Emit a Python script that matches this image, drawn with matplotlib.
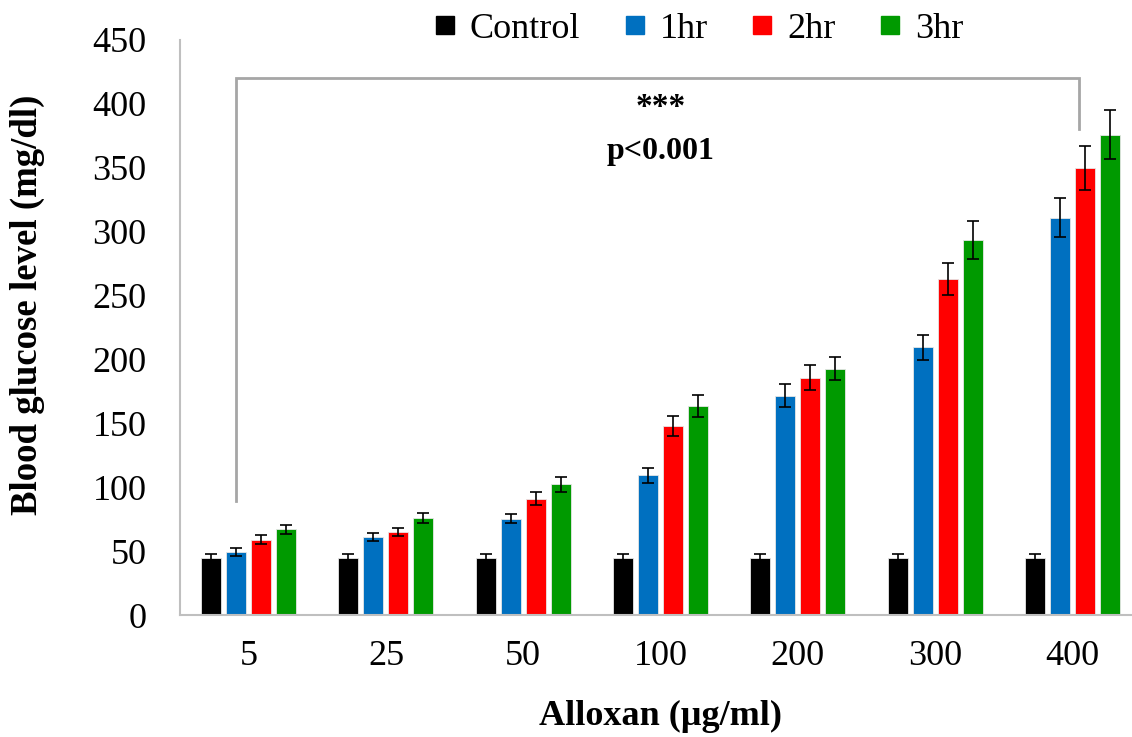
import numpy as np
import matplotlib.pyplot as plt
from matplotlib.lines import Line2D

# Blood glucose after alloxan exposure
doses = ["5", "25", "50", "100", "200", "300", "400"]
series = ["Control", "1hr", "2hr", "3hr"]
colors = ["#000000", "#0070c0", "#ff0000", "#009a00"]

control = [45, 45, 45, 45, 45, 45, 45]
hr1 = [49.5, 61, 75.4, 109.3, 171.6, 209.5, 311]
hr2 = [59, 65, 91, 148, 185.7, 262.6, 350]
hr3 = [67, 76, 102.3, 163.8, 192.7, 293.6, 376]

control_err = [2.5, 2.5, 2.5, 2.5, 2.5, 2.5, 2.5]
hr1_err = [3, 3, 3.6, 5.7, 9, 10, 15]
hr2_err = [3.5, 3, 5, 8, 9.7, 12.5, 17]
hr3_err = [3.5, 4, 5.7, 8.6, 9, 15, 19]

# significance bracket (left foot, top, top, right foot)
bracket_y = [89, 420, 420, 380]
sig_stars = "***"
sig_text = "p<0.001"

values = [control, hr1, hr2, hr3]
errors = [control_err, hr1_err, hr2_err, hr3_err]

plt.rcParams['font.family'] = ['Liberation Serif', 'DejaVu Serif']

fig = plt.figure(figsize=(11.32, 7.37), dpi=100)
ax = fig.add_axes([180 / 1132, 122 / 737, 952 / 1132, 575 / 737])

x = np.arange(len(doses))
pitch = 0.182
width = 0.146
for i, (vals, errs, col, name) in enumerate(zip(values, errors, colors, series)):
    offs = (i - 1.5) * pitch
    ax.bar(x + offs, vals, width, color=col, edgecolor="#e6e6e6", linewidth=0.6,
           label=name, zorder=2)
    ax.errorbar(x + offs, vals, yerr=errs, fmt="none", ecolor="black",
                elinewidth=1.2, capsize=4.5, capthick=1.2, zorder=3)

# bracket from the 5 ug/ml group to the 400 ug/ml group
bx0 = 0 - 0.5 * pitch
bx1 = 6 + 0.05
ax.plot([bx0, bx0, bx1, bx1], bracket_y, color="#a6a6a6", lw=2, zorder=1,
        solid_joinstyle="miter")
ax.text(3.0, 397, sig_stars, ha="center", va="center", fontsize=24,
        fontweight="bold")
ax.text(3.0, 363, sig_text, ha="center", va="center", fontsize=23,
        fontweight="bold")

ax.set_xlim(-0.5, -0.5 + 952 / 137.3)
ax.set_ylim(0, 450)
ax.set_yticks(np.arange(0, 451, 50))
ax.set_xticks(x)
ax.set_xticklabels(doses)
ax.tick_params(axis="both", length=0, labelsize=26)
ax.tick_params(axis="y", pad=24)
ax.tick_params(axis="x", pad=18)

for side in ["top", "right"]:
    ax.spines[side].set_visible(False)
for side in ["left", "bottom"]:
    ax.spines[side].set_color("#bfbfbf")
    ax.spines[side].set_linewidth(1.5)

ax.set_xlabel("Alloxan (µg/ml)", fontsize=26, fontweight="bold")
ax.xaxis.set_label_coords(0.505, -0.148)
ax.set_ylabel("Blood glucose level (mg/dl)", fontsize=26.5, fontweight="bold")
ax.yaxis.set_label_coords(-0.142, 0.539)

handles = [Line2D([0], [0], marker="s", color="w", markerfacecolor=c,
                  markeredgecolor=c, markersize=13) for c in colors]
fig.legend(handles, series, loc="center", bbox_to_anchor=(697 / 1132, 1 - 29 / 737),
           ncol=4, frameon=False, fontsize=26, handlelength=0.8,
           handletextpad=0.3, columnspacing=1.1)

fig.savefig("out.png", dpi=100)
